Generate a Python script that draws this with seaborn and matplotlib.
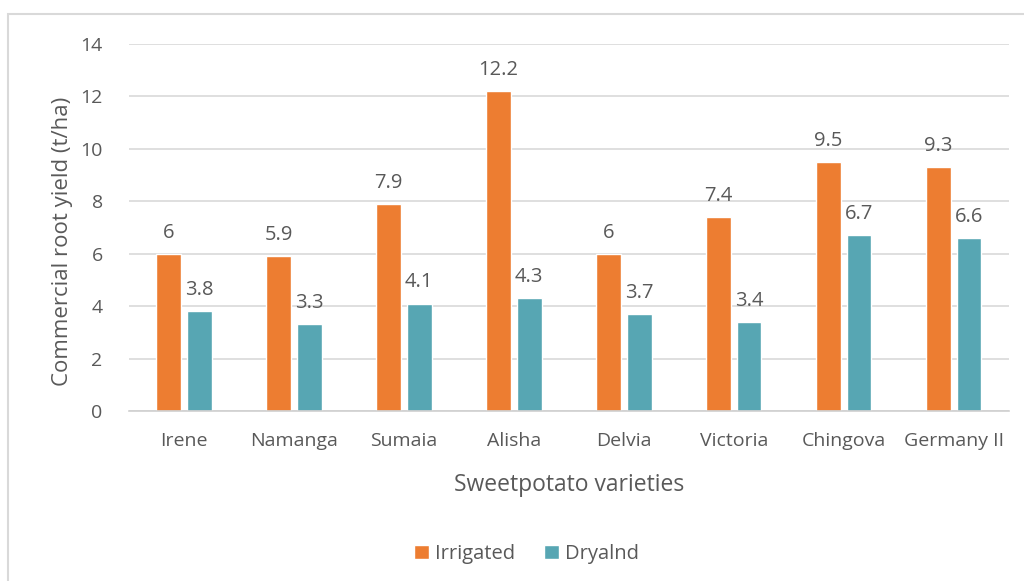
import pandas as pd
import numpy as np
import matplotlib
matplotlib.use("Agg")
import matplotlib.pyplot as plt
import seaborn as sns
from matplotlib.patches import Rectangle

# valeurs
varieties = ['Irene', 'Namanga', 'Sumaia', 'Alisha', 'Delvia', 'Victoria', 'Chingova', 'Germany II']
irrigated = [6, 5.9, 7.9, 12.2, 6, 7.4, 9.5, 9.3]
dryland = [3.8, 3.3, 4.1, 4.3, 3.7, 3.4, 6.7, 6.6]
series = ['Irrigated', 'Dryalnd']
colors = ['#ED7D31', '#57A6B3']

df = pd.DataFrame({
    'variety': varieties * 2,
    'yield': irrigated + dryland,
    'water': [series[0]] * len(varieties) + [series[1]] * len(varieties),
})

sns.set_style('white')
plt.rcParams['font.family'] = ['Open Sans', 'DejaVu Sans']
txt = '#595959'

fig = plt.figure(figsize=(10.24, 5.81), dpi=100)
ax = fig.add_axes([0.126, 0.2926, 0.859, 0.6317])

sns.barplot(data=df, x='variety', y='yield', hue='water', palette=colors,
            width=0.56, gap=0.2, ax=ax, legend=True, saturation=1)

for cont in ax.containers:
    ax.bar_label(cont, labels=[f'{v:g}' for v in cont.datavalues],
                 padding=8, fontsize=14.5, color=txt)

ax.set_ylim(0, 14)
ax.set_yticks(range(0, 15, 2))
ax.set_xlim(-0.5, len(varieties) - 0.5)
ax.yaxis.grid(True, color='#D9D9D9', linewidth=1.2)
ax.set_axisbelow(True)
for s in ['top', 'right', 'left']:
    ax.spines[s].set_visible(False)
ax.spines['bottom'].set_color('#D0D0D0')
ax.spines['bottom'].set_linewidth(1.2)
ax.tick_params(axis='both', length=0, labelsize=14, colors=txt)
ax.tick_params(axis='y', pad=19)
ax.tick_params(axis='x', pad=15)
ax.set_ylabel('Commercial root yield (t/ha)', fontsize=16, color=txt)
ax.yaxis.set_label_coords(-0.064, 0.463)
ax.set_xlabel('Sweetpotato varieties', fontsize=16.5, color=txt, labelpad=17)

ax.legend(loc='center', bbox_to_anchor=(0.452, -0.39), ncol=2, frameon=False,
          fontsize=14.5, labelcolor=txt, handlelength=0.75, handleheight=0.75,
          handletextpad=0.3, columnspacing=1.4)

# cadre du graphique
fig.patches.append(Rectangle((8 / 1024, -0.1), 1.2, 1.1 - 14 / 581,
                             transform=fig.transFigure, fill=False,
                             edgecolor='#D9D9D9', linewidth=1.5))

fig.savefig('out.png', dpi=100)
